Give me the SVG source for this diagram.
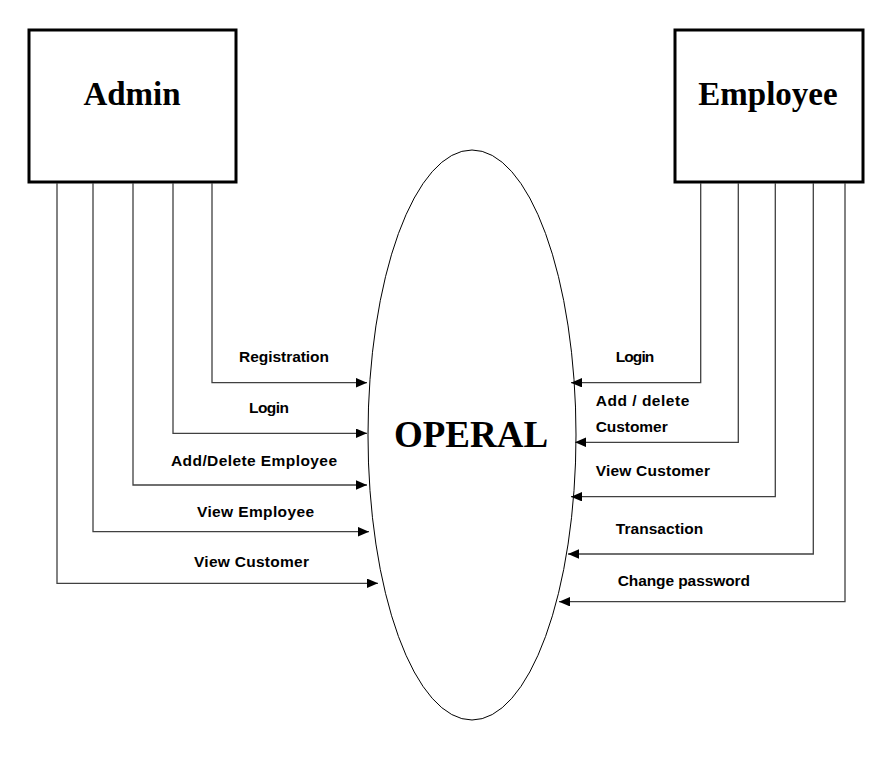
<svg xmlns="http://www.w3.org/2000/svg" width="891" height="758" viewBox="0 0 891 758">
<style>
.box{fill:#fff;stroke:#000;stroke-width:3}
.title{font-family:"Liberation Serif","Times New Roman",serif;font-weight:bold;fill:#000;text-anchor:middle}
.lbl{font-family:"Liberation Sans",Arial,sans-serif;font-weight:bold;font-size:15.5px;fill:#000}
.con{fill:none;stroke:#404040;stroke-width:1.3}
</style>
<defs>
<marker id="arr" markerUnits="userSpaceOnUse" markerWidth="12" markerHeight="10" refX="11" refY="4.75" orient="auto">
<path d="M0,0 L11,4.75 L0,9.5 z" fill="#000"/>
</marker>
</defs>
<rect width="891" height="758" fill="#fff"/>
<g id="admin">
<rect class="box" x="29" y="30" width="207" height="152"/>
<text class="title" x="132" y="105" font-size="33">Admin</text>
</g>
<g id="employee">
<rect class="box" x="675" y="30" width="188" height="152"/>
<text class="title" x="768" y="105" font-size="33">Employee</text>
</g>
<g id="operal">
<ellipse cx="472" cy="435" rx="104" ry="285" fill="#fff" stroke="#000" stroke-width="1"/>
<text class="title" x="471" y="447" font-size="37">OPERAL</text>
</g>
<g id="connectors">
<polyline class="con" points="212,183 212,382.7 367,382.7" marker-end="url(#arr)"/>
<polyline class="con" points="173,183 173,433.3 367,433.3" marker-end="url(#arr)"/>
<polyline class="con" points="133,183 133,485 367,485" marker-end="url(#arr)"/>
<polyline class="con" points="93,183 93,531.7 369,531.7" marker-end="url(#arr)"/>
<polyline class="con" points="57,183 57,583.3 378,583.3" marker-end="url(#arr)"/>
<polyline class="con" points="700.7,183 700.7,382.7 571,382.7" marker-end="url(#arr)"/>
<polyline class="con" points="738.3,183 738.3,442.3 575,442.3" marker-end="url(#arr)"/>
<polyline class="con" points="775.3,183 775.3,496.7 571,496.7" marker-end="url(#arr)"/>
<polyline class="con" points="813.3,183 813.3,554 568,554" marker-end="url(#arr)"/>
<polyline class="con" points="845,183 845,601.7 559,601.7" marker-end="url(#arr)"/>
</g>
<g id="labels">
<text class="lbl" x="239" y="361.5" textLength="90">Registration</text>
<text class="lbl" x="249" y="413" textLength="40">Login</text>
<text class="lbl" x="171" y="466" textLength="166">Add/Delete Employee</text>
<text class="lbl" x="197" y="516.5" textLength="117">View Employee</text>
<text class="lbl" x="194" y="567" textLength="115">View Customer</text>
<text class="lbl" x="615.7" y="361.5" textLength="38.6">Login</text>
<text class="lbl" x="595.7" y="405.7" textLength="93.6">Add / delete</text>
<text class="lbl" x="595.7" y="431.7" textLength="72">Customer</text>
<text class="lbl" x="595.7" y="475.7" textLength="114.3">View Customer</text>
<text class="lbl" x="615.7" y="534" textLength="87.6">Transaction</text>
<text class="lbl" x="617.7" y="585.7" textLength="132.3">Change password</text>
</g>
</svg>
